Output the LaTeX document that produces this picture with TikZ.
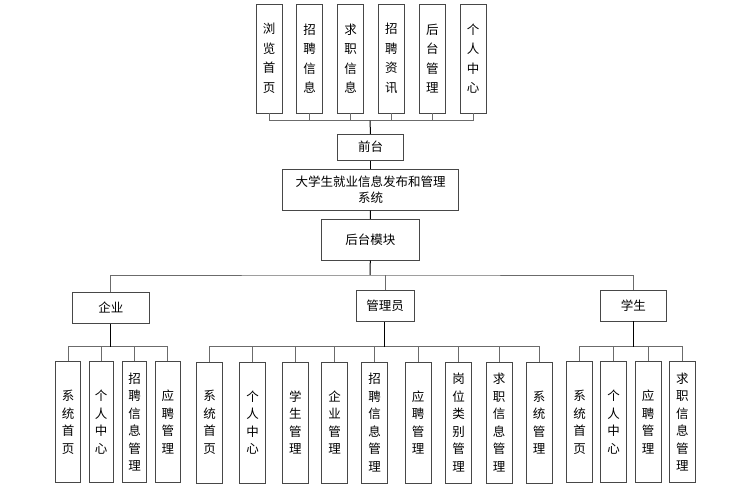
\documentclass[tikz,border=0pt]{standalone}
\usepackage{fontspec}
\newfontfamily\cjk{Noto Sans CJK SC}
\begin{document}
\begin{tikzpicture}[x=1pt,y=-1pt,
  box/.style={draw=black!72,line width=0.9pt,fill=white,inner sep=0pt,align=center,
    font=\cjk\fontsize{12.5}{16}\selectfont},
  topv/.style={box,minimum width=26pt,minimum height=109pt,font=\cjk\fontsize{12.5}{19.5}\selectfont},
  lowv/.style={box,minimum width=26pt,minimum height=121pt,font=\cjk\fontsize{12.5}{17.5}\selectfont},
  branch/.style={draw=black!58,line width=0.9pt},
  trunk/.style={draw=black,line width=1pt}]
\fill[white] (0,0) rectangle (744,495);
\useasboundingbox (0,0) rectangle (744,495);
% top level
\node[topv] (t1) at (269,58.5) {浏\\览\\首\\页};
\node[topv] (t2) at (309.7,58.5) {招\\聘\\信\\息};
\node[topv] (t3) at (350.7,58.5) {求\\职\\信\\息};
\node[topv] (t4) at (391.3,58.5) {招\\聘\\资\\讯};
\node[topv] (t5) at (432.3,58.5) {后\\台\\管\\理};
\node[topv] (t6) at (473,58.5) {个\\人\\中\\心};
\node[box,minimum width=65.6pt,minimum height=25.7pt] (qt) at (370.5,147.2) {前台};
\node[box,minimum width=175.6pt,minimum height=40.7pt] (sys) at (370.5,189.7) {大学生就业信息发布和管理\\系统};
\node[box,minimum width=97.3pt,minimum height=40.7pt] (ht) at (370.3,239.7) {后台模块};
\node[box,minimum width=77pt,minimum height=30.6pt] (qy) at (110.8,308) {企业};
\node[box,minimum width=58pt,minimum height=31pt] (gly) at (385,306.2) {管理员};
\node[box,minimum width=65.3pt,minimum height=30.3pt] (xs) at (633.3,305.8) {学生};
% enterprise children
\node[lowv,minimum width=24.5pt] (q1) at (68,422.2) {系\\统\\首\\页};
\node[lowv,minimum width=24.5pt] (q2) at (101.2,422.2) {个\\人\\中\\心};
\node[lowv,minimum width=24.5pt] (q3) at (134.5,422.2) {招\\聘\\信\\息\\管\\理};
\node[lowv,minimum width=24.5pt] (q4) at (167.8,422.2) {应\\聘\\管\\理};
% admin children
\node[lowv] (g1) at (209.7,422.5) {系\\统\\首\\页};
\node[lowv] (g2) at (252.5,422.5) {个\\人\\中\\心};
\node[lowv] (g3) at (295.3,422.5) {学\\生\\管\\理};
\node[lowv] (g4) at (334.7,422.5) {企\\业\\管\\理};
\node[lowv] (g5) at (374.7,422.5) {招\\聘\\信\\息\\管\\理};
\node[lowv] (g6) at (418,422.5) {应\\聘\\管\\理};
\node[lowv] (g7) at (458.7,422.5) {岗\\位\\类\\别\\管\\理};
\node[lowv] (g8) at (499,422.5) {求\\职\\信\\息\\管\\理};
\node[lowv] (g9) at (539,422.5) {系\\统\\管\\理};
% student children
\node[lowv] (s1) at (579.7,422.2) {系\\统\\首\\页};
\node[lowv] (s2) at (613.7,422.2) {个\\人\\中\\心};
\node[lowv] (s3) at (648,422.2) {应\\聘\\管\\理};
\node[lowv] (s4) at (682.3,422.2) {求\\职\\信\\息\\管\\理};
% bus coordinates
\coordinate (topbus) at (370,120.7);
\coordinate (mainbus) at (370,275);
\coordinate (qybus) at (110.8,346.5);
\coordinate (glybus) at (384.3,346.5);
\coordinate (xsbus) at (633.3,346.5);
% top connectors
\draw[branch] (t1.south) |- (topbus) -| (t6.south);
\foreach \n in {t2,t3,t4,t5} \draw[branch] (\n.south) -- (\n.south |- topbus);
\draw[trunk] (topbus) -- (qt.north);
\draw[trunk] (qt.south) -- (sys.north);
\draw[trunk] (sys.south) -- (ht.north);
\draw[trunk] (ht.south) -- (mainbus);
% main bus
\draw[branch] (qy.north) |- (mainbus) -| (xs.north);
\draw[branch] (gly.north) -- (gly.north |- mainbus);
% enterprise
\draw[branch] (q1.north) |- (qybus) -| (q4.north);
\foreach \n in {q2,q3} \draw[branch] (\n.north) -- (\n.north |- qybus);
\draw[trunk] (qy.south) -- (qybus);
% admin
\draw[branch] (g1.north) |- (glybus) -| (g9.north);
\foreach \n in {g2,g3,g4,g5,g6,g7,g8} \draw[branch] (\n.north) -- (\n.north |- glybus);
\draw[trunk,line width=1.6pt] (gly.south -| glybus) -- (glybus);
% student
\draw[branch] (s1.north) |- (xsbus) -| (s4.north);
\foreach \n in {s2,s3} \draw[branch] (\n.north) -- (\n.north |- xsbus);
\draw[trunk] (xs.south) -- (xsbus);
\end{tikzpicture}
\end{document}
